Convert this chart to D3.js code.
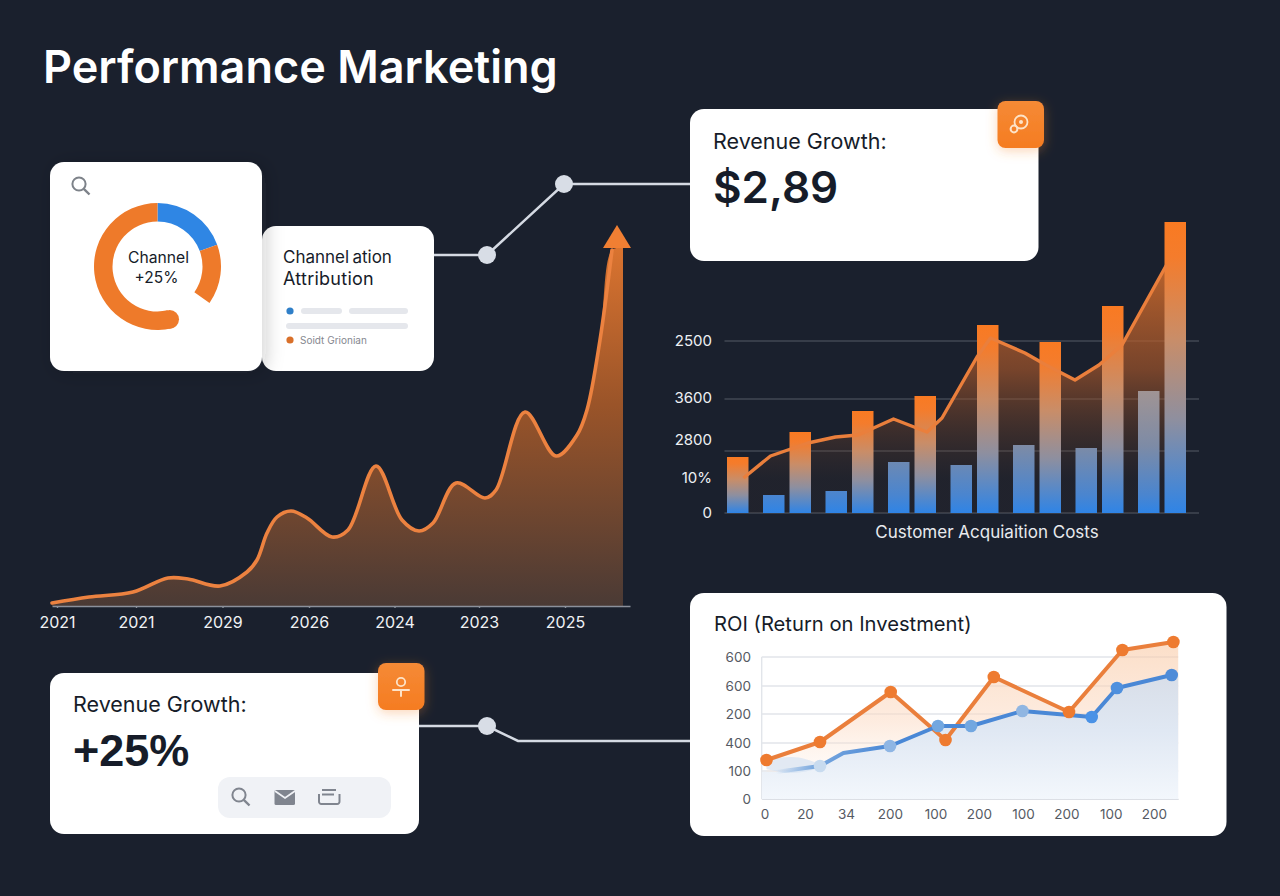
<!DOCTYPE html>
<html><head><meta charset="utf-8">
<style>html,body{margin:0;padding:0;background:#1a202d}svg{display:block}text{font-family:Inter,"Noto Sans",sans-serif}</style>
<script src="https://cdnjs.cloudflare.com/ajax/libs/d3/7.8.5/d3.min.js"></script>
</head><body><svg id="c" width="1280" height="896"></svg>
<script>
// ---- data ----
const growthX = [0,37,81,116,136,168,195,205,215,225,239,255,280,296,324,350,367,381,404,433,444,473,504,525,535,548,560];
const growthY = [3,9,14,28,27,20,34,46,73,89,95,88,69,76,140,86,75,83,123,108,116,194,150,171,196,266,356];
const growthTicks = [5,84,170.5,257,342.5,427,513];
const growthLabels = ["2021","2021","2029","2026","2024","2023","2025"];

const barGroups = ["a","b","c","d","e","f","g","h"];
const orangeBars = [56,81,102,117,188,171,207,291];
const blueBars = [18,22,51,48,68,65,122];
const cacX = [6,33,70.5,98,120.5,156,189.5,204.5,239.5,253,287.5,308.5,337.5,361.5,384.5,429];
const cacY = [35,57,70,76,78,94,81,95,156,175,160,148,133,148,168,248];
const cacTicks = [172,115,73,35,0];
const cacLabels = ["2500","3600","2800","10%","0"];
const cacGrid = [172,114,62,0];

const orangeX = [4.8,58.3,129,183.8,232.1,307.3,360.7,411.7];
const orangeVals = [39,57,107,59,122,87,149,157];
const blueX = [0,14.3,58.3,81.7,128.3,176.3,209.3,260.7,330,355.3,410];
const blueVals = [27,27,33,46,53,73,73,88,82,111,124];
const blueMarkers = [2,4,5,6,7,8,9,10];
const wispX = [4.8,30,58.3];
const wispTop = [40,42,35];
const wispBottom = [30,26,31];
const roiGrid = [142,113,85,56,28,0];
const roiYLabels = ["600","600","200","400","100","0"];
const roiXTicks = [2.8,43.3,84.3,128.3,173.8,217.3,261.3,304.8,349,392.3];
const roiXLabels = ["0","20","34","200","100","200","100","200","100","200"];

const donutShares = [70,55,42,193];
const legendLabel = "Soidt Grionian";

// ---- setup ----
const svg = d3.select("#c");
const defs = svg.append("defs");
const INK="#161c29";
function grad(id,stops,attrs){
  const g=defs.append("linearGradient").attr("id",id);
  Object.entries(attrs||{x1:0,y1:0,x2:0,y2:1}).forEach(([k,v])=>g.attr(k,v));
  stops.forEach(s=>g.append("stop").attr("offset",s[0]).attr("stop-color",s[1]).attr("stop-opacity",s[2]===undefined?1:s[2]));
}
const us=(x1,y1,x2,y2)=>({gradientUnits:"userSpaceOnUse",x1,y1,x2,y2});
grad("gGrowth",[[0,"#dd7530"],[.45,"#9a5429"],[1,"#4a3a35"]],us(0,240,0,606));
grad("gBarO",[[0,"#f97a22"],[.12,"#f47c2c"],[.4,"#c98d68"],[.68,"#8e8f9f"],[1,"#2f84e6"]]);
grad("gBarB",[[0,"#a09494"],[.45,"#7d8ba6"],[.85,"#4a85cf"],[1,"#2f84e6"]],us(0,391,0,513));
grad("gCac",[[0,"#d06c2c",.9],[.5,"#b05a2a",.62],[1,"#5a3a28",.1]],us(0,260,0,480));
grad("gRoiO",[[0,"#f9c9a4",.6],[.6,"#fcdcc6",.55],[1,"#fde6d6",.15]],us(0,642,0,775));
grad("gRoiB",[[0,"#d8dee8"],[.45,"#e0e8f3"],[1,"#f3f7fc"]],us(0,675,0,799));
grad("gRoiBL",[[0,"#5a94d8",0],[.35,"#5a94d8",.8],[1,"#4a88d6"]],us(776,0,890,0));
grad("gBadge",[[0,"#f58a35"],[1,"#f57c22"]]);
const fs=defs.append("filter").attr("id","sh").attr("x","-20%").attr("y","-20%").attr("width","140%").attr("height","140%");
fs.append("feDropShadow").attr("dx",4).attr("dy",2).attr("stdDeviation",9).attr("flood-color","#1a202d").attr("flood-opacity",.2);
const fb=defs.append("filter").attr("id","shB").attr("x","-40%").attr("y","-40%").attr("width","180%").attr("height","180%");
fb.append("feDropShadow").attr("dx",0).attr("dy",3).attr("stdDeviation",6).attr("flood-color","#f58a35").attr("flood-opacity",.35);

function card(x,y,w,h,f){return svg.append("rect").attr("x",x).attr("y",y).attr("width",w).attr("height",h).attr("rx",14).attr("fill","#fff").attr("filter",f||null);}
function txt(s,x,y,size,fill,weight,anchor){return svg.append("text").attr("x",x).attr("y",y).attr("font-size",size).attr("fill",fill).attr("font-weight",weight||400).attr("text-anchor",anchor||"start").text(s);}
const wire=(pts)=>svg.append("path").attr("d",d3.line()(pts)).attr("fill","none").attr("stroke","#d5dae3").attr("stroke-width",2.5);
const node=(x,y)=>svg.append("circle").attr("cx",x).attr("cy",y).attr("r",9).attr("fill","#d8dde6");
function searchIcon(x,y,c){
  svg.append("circle").attr("cx",x).attr("cy",y).attr("r",6.6).attr("fill","none").attr("stroke",c).attr("stroke-width",2);
  svg.append("path").attr("d",d3.line()([[x+4.8,y+4.8],[x+10.5,y+10.5]])).attr("stroke",c).attr("stroke-width",2.4);
}

txt("Performance Marketing",43,83,45,"#fff",600);

// ---- connectors ----
wire([[434,255],[487,255],[564,184],[690,184]]); node(487,255); node(564,184);
wire([[419,726],[487,726],[518,741],[690,741]]); node(487,726);

// ---- growth area ----
const gx=d3.scaleLinear().domain([0,578]).range([52,630]);
const gy=d3.scaleLinear().domain([0,400]).range([606,206]);
const gCurve=d3.curveCatmullRom.alpha(.5);
const gRows=growthX.map((x,i)=>[x,growthY[i]]);
svg.append("path").datum(gRows.concat([[571,358]])).attr("fill","url(#gGrowth)")
  .attr("d",d3.area().x(d=>gx(d[0])).y0(gy(0)).y1(d=>gy(d[1])).curve(gCurve));
svg.append("path").datum(gRows).attr("fill","none").attr("stroke","#ec8240").attr("stroke-width",3.6).attr("stroke-linecap","round")
  .attr("d",d3.line().x(d=>gx(d[0])).y(d=>gy(d[1])).curve(gCurve));
svg.append("path").attr("fill","#f07f33").attr("d",d3.line()([[gx(551),gy(358)],[gx(565),gy(381)],[gx(579),gy(358)]])+"Z");
const gAxis=svg.append("g").attr("transform",`translate(0,${gy(0)})`)
  .call(d3.axisBottom(gx).tickValues(growthTicks).tickSize(2).tickSizeOuter(0).tickPadding(9).tickFormat((d,i)=>growthLabels[i]));
gAxis.selectAll("path,line").attr("stroke","#8b909b").attr("stroke-width",1.4);
gAxis.selectAll("text").attr("fill","#f0f2f5").attr("font-size",16).attr("font-family","Inter");

// ---- bars ----
const bx=d3.scalePoint().domain(barGroups).range([727,1164.5]);
const by=d3.scaleLinear().domain([0,300]).range([513,213]);
const cx=d3.scaleLinear().domain([0,480]).range([737.5,1217.5]);
const bw=21.5;
cacGrid.forEach(v=>svg.append("line").attr("x1",724.5).attr("x2",1199).attr("y1",by(v)).attr("y2",by(v)).attr("stroke","#555b67").attr("stroke-width",1.1));
const cacRows=cacX.map((x,i)=>[x,cacY[i]]);
svg.append("path").datum(cacRows).attr("fill","url(#gCac)")
  .attr("d",d3.area().x(d=>cx(d[0])).y0(by(0)).y1(d=>by(d[1])));
svg.selectAll(".bo").data(orangeBars).join("rect").attr("x",(d,i)=>bx(barGroups[i])).attr("width",bw)
  .attr("y",d=>by(d)).attr("height",d=>by(0)-by(d)).attr("fill","url(#gBarO)");
svg.selectAll(".bb").data(blueBars).join("rect").attr("x",(d,i)=>bx(barGroups[i])+36).attr("width",bw)
  .attr("y",d=>by(d)).attr("height",d=>by(0)-by(d)).attr("fill","url(#gBarB)");
svg.append("path").datum(cacRows).attr("fill","none").attr("stroke","#ea7f3c").attr("stroke-width",3.4).attr("stroke-linejoin","round")
  .attr("d",d3.line().x(d=>cx(d[0])).y(d=>by(d[1])));
const bAxis=svg.append("g").attr("transform","translate(712,0)")
  .call(d3.axisLeft(by).tickValues(cacTicks).tickSize(0).tickPadding(0).tickFormat((d,i)=>cacLabels[i]));
bAxis.select("path").remove();
bAxis.selectAll("text").attr("fill","#eef0f4").attr("font-size",15).attr("font-family","Inter");
txt("Customer Acquiaition Costs",987,538,17,"#e8eaee",400,"middle");

// ---- donut card ----
card(262,226,172,145);
card(50,162,212,209,"url(#sh)");
searchIcon(79,184,"#7d8289");
const dc=[157.5,266.5];
const pie=d3.pie().sort(null).value(d=>d)(donutShares);
const arc=d3.arc().innerRadius(45).outerRadius(63.5);
const dG=svg.append("g").attr("transform",`translate(${dc})`);
const dCol=["#2f86e4","#ee7a2a",null,"#ee7a2a"];
pie.forEach((p,i)=>{ if(dCol[i]) dG.append("path").attr("d",arc(p)).attr("fill",dCol[i]); });
const tip=arc.centroid({startAngle:pie[3].startAngle,endAngle:pie[3].startAngle});
dG.append("circle").attr("cx",tip[0]).attr("cy",tip[1]).attr("r",9.3).attr("fill","#ee7a2a");
txt("Channel",158.5,263,15.7,INK,400,"middle");
txt("+25%",156.5,283,15.5,INK,400,"middle");
txt("Channel ation",283,263,17,INK,400).attr("word-spacing",-1.5);
txt("Attribution",283,285,18,INK,400).attr("letter-spacing",.25);
svg.append("circle").attr("cx",290).attr("cy",311).attr("r",3.6).attr("fill","#2f7fc8");
svg.append("circle").attr("cx",290).attr("cy",340).attr("r",3.6).attr("fill","#d9702a");
[[301,308,41],[349,308,59],[286,323,122]].forEach(p=>svg.append("rect").attr("x",p[0]).attr("y",p[1]).attr("width",p[2]).attr("height",6).attr("rx",3).attr("fill","#e5e7ec"));
txt(legendLabel,300,343.5,10,"#85888f");

// ---- top revenue card ----
card(690,109,348.5,152);
txt("Revenue Growth:",713,148.5,21.5,INK);
txt("$2,89",713,203,44,INK,600);
function badge(x,y){svg.append("rect").attr("x",x).attr("y",y).attr("width",46.5).attr("height",47).attr("rx",8).attr("fill","url(#gBadge)").attr("filter","url(#shB)");}
badge(997.5,101);
svg.append("circle").attr("cx",1021).attr("cy",122).attr("r",6.5).attr("fill","none").attr("stroke","#fde3c8").attr("stroke-width",1.8);
svg.append("circle").attr("cx",1021,).attr("cy",122).attr("r",2).attr("fill","#fde3c8");
svg.append("circle").attr("cx",1014).attr("cy",129).attr("r",3.4).attr("fill","none").attr("stroke","#fde3c8").attr("stroke-width",2);

// ---- bottom revenue card ----
card(50,673,369,161);
badge(378,663);
svg.append("circle").attr("cx",401).attr("cy",682).attr("r",4.2).attr("fill","none").attr("stroke","#fde3c8").attr("stroke-width",1.8);
svg.append("path").attr("d","M393,690H409M401,690V696").attr("fill","none").attr("stroke","#fde3c8").attr("stroke-width",2).attr("stroke-linecap","round");
txt("Revenue Growth:",73,712,21.5,INK);
txt("+25%",73,766,45,INK,700).style("font-family","'Liberation Sans'");
svg.append("rect").attr("x",218).attr("y",777).attr("width",173).attr("height",41).attr("rx",12).attr("fill","#f0f2f6");
searchIcon(239,795,"#80858f");
svg.append("rect").attr("x",274.5).attr("y",790).attr("width",20.5).attr("height",15).attr("rx",1.5).attr("fill","#80858f");
svg.append("path").attr("d","M275,791L285,798L295,791").attr("fill","none").attr("stroke","#f0f2f6").attr("stroke-width",1.8);
svg.append("path").attr("d","M322,790H336M322,794.5H334M319,794V801A2.5,2.5 0 0 0 321.5,804H337A2.5,2.5 0 0 0 339.5,801V794").attr("fill","none").attr("stroke","#80858f").attr("stroke-width",2);

// ---- ROI card ----
card(690,593,536.5,243);
txt("ROI (Return on Investment)",714,631,20.2,INK);
const rx=d3.scaleLinear().domain([0,416.5]).range([761.7,1178.2]);
const ry=d3.scaleLinear().domain([0,142]).range([799,657]);
const clip=defs.append("clipPath").attr("id","rc");
clip.append("rect").attr("x",761.7).attr("y",630).attr("width",416.5).attr("height",169);
roiGrid.forEach(v=>svg.append("line").attr("x1",761.7).attr("x2",1178.2).attr("y1",ry(v)).attr("y2",ry(v)).attr("stroke","#e2e5ea").attr("stroke-width",1.4));
svg.append("line").attr("x1",761.7).attr("x2",761.7).attr("y1",657).attr("y2",799).attr("stroke","#e2e5ea").attr("stroke-width",1.4);
const oRows=orangeX.map((x,i)=>[x,orangeVals[i]]);
const bRows=blueX.map((x,i)=>[x,blueVals[i]]);
const pg=svg.append("g").attr("clip-path","url(#rc)");
pg.append("path").datum(oRows.concat([[430,160]])).attr("fill","url(#gRoiO)")
  .attr("d",d3.area().x(d=>rx(d[0])).y0(ry(0)).y1(d=>ry(d[1])));
pg.append("path").datum(bRows.concat([[430,128]])).attr("fill","url(#gRoiB)")
  .attr("d",d3.area().x(d=>rx(d[0])).y0(ry(0)).y1(d=>ry(d[1])));
pg.append("path").datum(wispX).attr("fill","#d5e3f2").attr("opacity",.7)
  .attr("d",d3.area().x(d=>rx(d)).y0((d,i)=>ry(wispBottom[i])).y1((d,i)=>ry(wispTop[i])).curve(d3.curveMonotoneX));
svg.append("path").datum(oRows).attr("fill","none").attr("stroke","#ea7f3c").attr("stroke-width",4).attr("stroke-linejoin","round")
  .attr("d",d3.line().x(d=>rx(d[0])).y(d=>ry(d[1])));
svg.append("path").datum(bRows.slice(1)).attr("fill","none").attr("stroke","url(#gRoiBL)").attr("stroke-width",4).attr("stroke-linejoin","round")
  .attr("d",d3.line().x(d=>rx(d[0])).y(d=>ry(d[1])));
svg.selectAll(".ro").data(oRows).join("circle").attr("cx",d=>rx(d[0])).attr("cy",d=>ry(d[1])).attr("r",6.3).attr("fill","#ee7b30");
const bOp=["#c8dbef","#8fb6e4","#72a7e0","#72a7e0","#90b6e2","#4a92e6","#4f90de","#4f8cd8"];
svg.selectAll(".rb").data(blueMarkers).join("circle").attr("cx",d=>rx(blueX[d])).attr("cy",d=>ry(blueVals[d])).attr("r",6.3).attr("fill",(d,i)=>bOp[i]);
const rAxY=svg.append("g").attr("transform","translate(751,0)")
  .call(d3.axisLeft(ry).tickValues(roiGrid).tickSize(0).tickPadding(0).tickFormat((d,i)=>roiYLabels[i]));
rAxY.select("path").remove();
rAxY.selectAll("text").attr("fill","#555a63").attr("font-size",13.5).attr("font-family","Inter");
const rAxX=svg.append("g").attr("transform","translate(0,799)")
  .call(d3.axisBottom(rx).tickValues(roiXTicks).tickSize(0).tickPadding(10).tickFormat((d,i)=>roiXLabels[i]));
rAxX.select("path").attr("stroke","#dcdfe5");
rAxX.selectAll("text").attr("fill","#555a63").attr("font-size",13.5).attr("font-family","Inter");
</script></body></html>
